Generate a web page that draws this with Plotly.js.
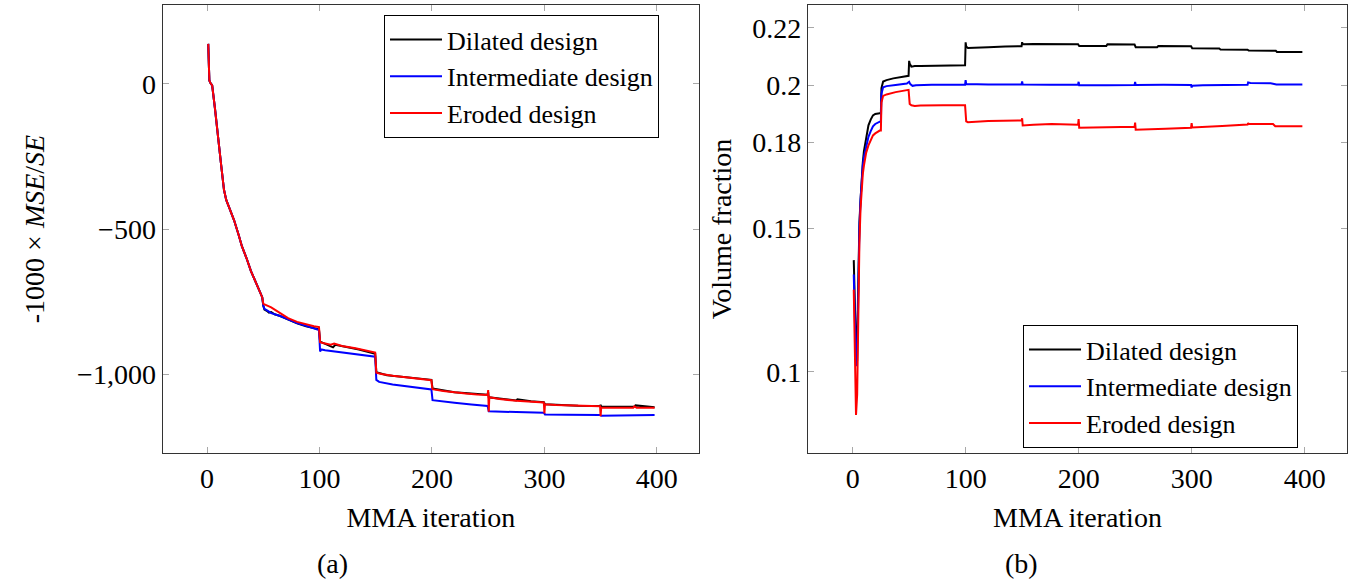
<!DOCTYPE html>
<html>
<head>
<meta charset="utf-8">
<script src="https://cdn.plot.ly/plotly-3.0.1.min.js"></script>
<style>html,body{margin:0;padding:0;background:#fff;}#chart{width:1361px;height:582px;}</style>
</head>
<body>
<div id="chart"></div>
<script>
// ---------- Data ----------
const seriesNames = ["Dilated design", "Intermediate design", "Eroded design"];
const seriesColors = ["#000000", "#0000ff", "#ff0000"];

// (a) -1000 x MSE/SE vs MMA iteration
const aX_dilated = [1,1.5,2,3,4.5,7,10,12.5,15,17,20,24,28,31,35,39,44,49,50,51,53,55,57,60,65,72,80,88,95,99.5,100.5,105,108,110,112,114,120,135,149.5,150.5,160,180,199.5,200.5,220,249.5,250,250.5,262,275,276,288,299.5,300,300.5,330,349.5,350,350.5,365,380,381,398];
const aY_dilated = [138,60,12,3,-5,-85,-180,-280,-365,-400,-430,-470,-520,-560,-600,-645,-690,-735,-765,-778,-782,-788,-786,-794,-800,-812,-825,-835,-842,-846,-888,-896,-900,-906,-908,-899,-904,-915,-930,-994,-1004,-1013,-1020,-1050,-1063,-1071,-1062,-1080,-1086,-1091,-1087,-1094,-1097,-1101,-1104,-1109,-1110,-1106,-1113,-1113,-1112,-1108,-1114];

const aX_intermediate = [1,1.5,2,3,4.5,7,10,12.5,15,17,20,24,28,31,35,39,44,49,50,51,54,57,65,72,80,88,95,99.5,100.5,101.5,105,120,135,149.5,150.5,153,165,180,199.5,200.5,210,220,235,249.5,250.5,260,275,299.5,300.5,320,349.5,350.5,365,380,398];
const aY_intermediate = [138,60,12,3,-5,-85,-180,-280,-365,-400,-430,-470,-520,-560,-600,-645,-690,-735,-765,-775,-782,-790,-800,-812,-824,-834,-842,-848,-922,-915,-918,-926,-933,-940,-1020,-1027,-1036,-1044,-1053,-1090,-1095,-1099,-1105,-1110,-1128,-1130,-1131,-1133,-1139,-1140,-1141,-1144,-1143,-1142,-1141];

const aX_eroded = [1,1.5,2,3,4.5,7,10,12.5,15,17,20,24,28,31,35,39,44,49,50,53,57,65,72,80,88,95,99.5,100.5,103,110,113,120,132,140,149.5,150.5,155,165,176,188,199.5,200,200.5,210,219,230,240,249.5,250,250.5,251,260,275,290,299.5,300,300.5,310,330,349.5,350,350.5,365,379,380,382,398];
const aY_eroded = [138,60,12,3,-5,-85,-180,-280,-365,-400,-430,-470,-520,-560,-600,-645,-690,-735,-758,-762,-770,-790,-807,-820,-829,-835,-838,-890,-893,-899,-895,-903,-911,-918,-926,-995,-1000,-1006,-1011,-1016,-1021,-1040,-1052,-1058,-1063,-1067,-1070,-1072,-1055,-1130,-1080,-1086,-1092,-1096,-1098,-1136,-1104,-1107,-1109,-1111,-1145,-1115,-1116,-1116,-1111,-1116,-1116];

// (b) Volume fraction vs MMA iteration
const bX_dilated = [1,2,3,4,5,6,7,8,9,10,12,14,16,18,20,22,24,25,25.5,27,30,36,42,48,49.5,50,50.5,52,55,60,70,80,90,99.5,100,100.5,102,110,120,135,149.5,150,150.5,160,176,199.5,200.5,212,224.5,225.5,238,249.5,250.5,262,269.5,270.5,285,299.5,300.5,312,324.5,325.5,338,349.5,350.5,362,374.5,375.5,388,398];
const bY_dilated = [0.139,0.118,0.108,0.110,0.140,0.152,0.160,0.168,0.173,0.177,0.182,0.186,0.188,0.1895,0.190,0.1902,0.1902,0.1902,0.199,0.2013,0.2018,0.2024,0.2028,0.2032,0.2033,0.2085,0.2075,0.2065,0.2067,0.2067,0.2068,0.2069,0.2070,0.2070,0.2150,0.2135,0.2130,0.2132,0.2133,0.2135,0.2136,0.2150,0.2143,0.2144,0.2144,0.2143,0.2137,0.2137,0.2137,0.2143,0.2143,0.2142,0.2133,0.2133,0.2133,0.2137,0.2137,0.2136,0.2129,0.2129,0.2128,0.2125,0.2124,0.2124,0.2121,0.2121,0.2120,0.2116,0.2116,0.2116];

const bX_intermediate = [1,2,3,4,5,6,7,8,9,10,12,14,16,18,20,22,24,25,25.5,27,30,38,48,50,51,53,56,70,99.5,100,100.5,120,149.5,150,150.5,175,199.5,200,200.5,225,249.5,250,250.5,275,299.5,300,300.5,310,325,349.5,350,352,370,375,398];
const bY_intermediate = [0.134,0.112,0.102,0.104,0.135,0.150,0.160,0.167,0.172,0.175,0.179,0.182,0.184,0.1857,0.1865,0.187,0.1873,0.1873,0.197,0.1993,0.1997,0.2001,0.2006,0.2012,0.2004,0.1998,0.2000,0.2002,0.2002,0.2018,0.2004,0.2003,0.2003,0.2013,0.2003,0.2002,0.2002,0.2012,0.2000,0.2000,0.2001,0.2012,0.2001,0.2002,0.2001,0.1992,0.1998,0.2000,0.2001,0.2002,0.2010,0.2008,0.2007,0.2003,0.2003];

const bX_eroded = [1,2,3,4,5,6,7,8,9,10,12,14,16,18,20,22,24,25,25.5,27,30,38,48,49.5,50.5,52,55,60,80,99.5,100.5,102,120,149.5,150,150.5,160,176,199.5,200,200.5,226,249.5,250,250.5,277,299.5,300,300.5,327,349.5,350,350.5,372,374,398];
const bY_eroded = [0.1287,0.100,0.085,0.092,0.125,0.145,0.157,0.164,0.169,0.172,0.1765,0.179,0.181,0.1825,0.1832,0.1838,0.1842,0.1842,0.194,0.1963,0.1968,0.1976,0.1982,0.1984,0.1935,0.1930,0.1928,0.1929,0.1930,0.1930,0.1874,0.1871,0.1875,0.1877,0.1885,0.1860,0.1862,0.1865,0.1862,0.1882,0.1852,0.1853,0.1855,0.1870,0.1845,0.1848,0.1852,0.1868,0.1853,0.1858,0.1863,0.1868,0.1865,0.1865,0.1857,0.1857];

// Ticks
const xTickVals = [0, 100, 200, 300, 400];
const xTickText = ["0", "100", "200", "300", "400"];
const aYTickVals = [0, -500, -1000];
const aYTickText = ["0", "\u2212500", "\u22121,000"];
const bYTickVals = [0.1, 0.15, 0.18, 0.2, 0.22];
const bYTickText = ["0.1", "0.15", "0.18", "0.2", "0.22"];

// ---------- Chart ----------
const FONT = '"Liberation Serif", "Times New Roman", serif';
const FS = 28;
const LFS = 26;

const aSeries = [[aX_dilated, aY_dilated], [aX_intermediate, aY_intermediate], [aX_eroded, aY_eroded]];
const bSeries = [[bX_dilated, bY_dilated], [bX_intermediate, bY_intermediate], [bX_eroded, bY_eroded]];

const traces = [];
aSeries.forEach((s, i) => traces.push({
  x: s[0], y: s[1], type: "scatter", mode: "lines", name: seriesNames[i],
  line: {color: seriesColors[i], width: 2}, xaxis: "x", yaxis: "y", legend: "legend"
}));
bSeries.forEach((s, i) => traces.push({
  x: s[0], y: s[1], type: "scatter", mode: "lines", name: seriesNames[i],
  line: {color: seriesColors[i], width: 2}, xaxis: "x2", yaxis: "y2", legend: "legend2"
}));

const axisCommon = {
  showline: true, linecolor: "#333", linewidth: 1.2, mirror: "allticks",
  ticks: "inside", ticklen: 6, tickcolor: "#a8a8a8", tickwidth: 1,
  showgrid: false, zeroline: false, automargin: false,
  tickfont: {family: FONT, size: FS, color: "#000"}
};

const yDom = [1 - 453/582, 1 - 5/582];

const legendCommon = {
  xanchor: "left", yanchor: "top",
  bgcolor: "#fff", bordercolor: "#000", borderwidth: 1,
  font: {family: FONT, size: LFS, color: "#000"}, tracegroupgap: 0,
  itemwidth: 52
};

const layout = {
  width: 1361, height: 582,
  paper_bgcolor: "#fff", plot_bgcolor: "#fff",
  margin: {l: 0, r: 0, t: 0, b: 0},
  font: {family: FONT, size: FS, color: "#000"},
  xaxis: Object.assign({}, axisCommon, {
    domain: [162.7/1361, 699/1361], range: [-39.5, 437.5],
    tickvals: xTickVals, ticktext: xTickText, anchor: "y",
    title: {text: "MMA iteration", font: {family: FONT, size: FS}, standoff: 14}
  }),
  yaxis: Object.assign({}, axisCommon, {
    domain: yDom, range: [-1272, 272],
    tickvals: aYTickVals, ticktext: aYTickText, anchor: "x",
    title: {text: "-1000 \u00d7 <i>MSE</i>/<i>SE</i>", font: {family: FONT, size: FS}, standoff: 24}
  }),
  xaxis2: Object.assign({}, axisCommon, {
    domain: [808/1361, 1347/1361], range: [-39.5, 437.5],
    tickvals: xTickVals, ticktext: xTickText, anchor: "y2",
    title: {text: "MMA iteration", font: {family: FONT, size: FS}, standoff: 14}
  }),
  yaxis2: Object.assign({}, axisCommon, {
    domain: yDom, range: [0.0717, 0.228],
    tickvals: bYTickVals, ticktext: bYTickText, anchor: "x2",
    title: {text: "Volume fraction", font: {family: FONT, size: FS}, standoff: 12}
  }),
  legend: Object.assign({}, legendCommon, {x: 384/1361, y: 1 - 15/582}),
  legend2: Object.assign({}, legendCommon, {x: 1023/1361, y: 1 - 325/582}),
  showlegend: true,
  annotations: [
    {text: "(a)", xref: "paper", yref: "paper", x: 332/1361, y: 1 - 563/582, xanchor: "center", yanchor: "middle", showarrow: false, font: {family: FONT, size: FS}},
    {text: "(b)", xref: "paper", yref: "paper", x: 1021/1361, y: 1 - 563/582, xanchor: "center", yanchor: "middle", showarrow: false, font: {family: FONT, size: FS}}
  ]
};

Plotly.newPlot("chart", traces, layout, {displayModeBar: false, staticPlot: true});
</script>
</body>
</html>
